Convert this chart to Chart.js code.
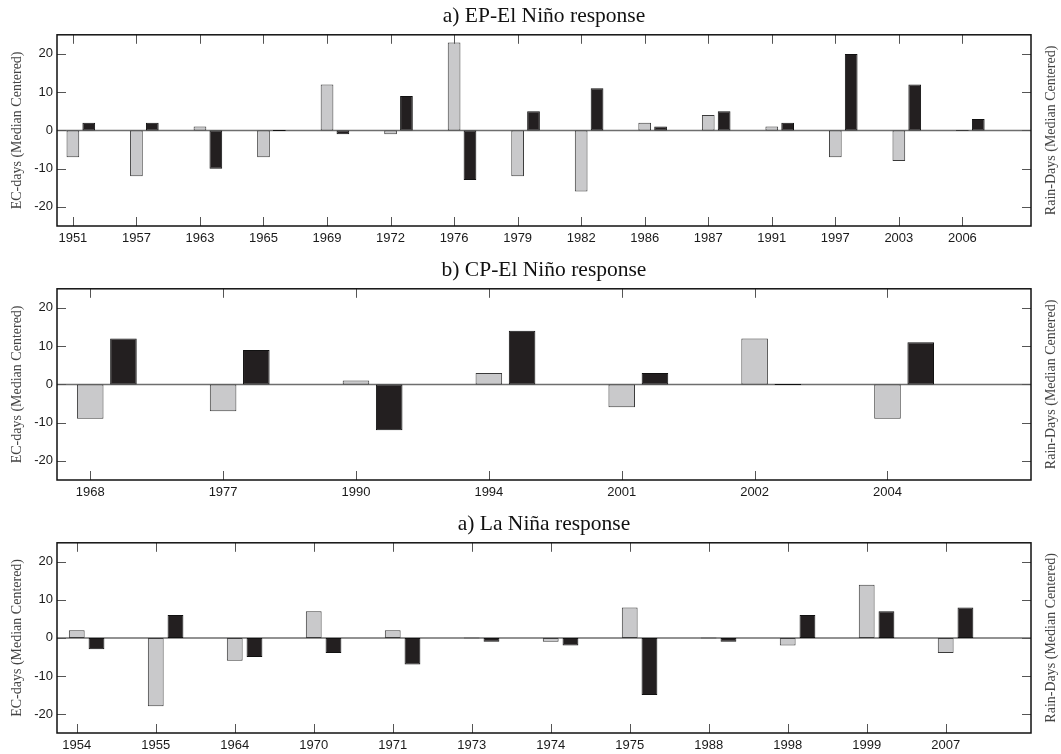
<!DOCTYPE html>
<html>
<head>
<meta charset="utf-8">
<script src="https://cdn.jsdelivr.net/npm/chart.js@4/dist/chart.umd.min.js"></script>
<style>
  body { margin: 0; background: #fff; }
  .panel { position: absolute; left: 0; }
</style>
</head>
<body>
<canvas id="epChart" class="panel" width="1061" height="252" style="top:0px"></canvas>
<canvas id="cpChart" class="panel" width="1061" height="252" style="top:254px"></canvas>
<canvas id="laChart" class="panel" width="1061" height="246" style="top:508px"></canvas>
<script>
// a) EP-El Nino
const epYears = ["1951", "1957", "1963", "1965", "1969", "1972", "1976", "1979", "1982", "1986", "1987", "1991", "1997", "2003", "2006"];
const epEcDays = [-7, -12, 1, -7, 12, -1, 23, -12, -16, 2, 4, 1, -7, -8, 0];
const epRainDays = [2, 2, -10, 0, -1, 9, -13, 5, 11, 1, 5, 2, 20, 12, 3];

// b) CP-El Nino
const cpYears = ["1968", "1977", "1990", "1994", "2001", "2002", "2004"];
const cpEcDays = [-9, -7, 1, 3, -6, 12, -9];
const cpRainDays = [12, 9, -12, 14, 3, 0, 11];

// c) La Nina (labelled "a)" in the figure)
const laYears = ["1954", "1955", "1964", "1970", "1971", "1973", "1974", "1975", "1988", "1998", "1999", "2007"];
const laEcDays = [2, -18, -6, 7, 2, 0, -1, 8, 0, -2, 14, -4];
const laRainDays = [-3, 6, -5, -4, -7, -1, -2, -15, -1, 6, 7, 8];

const yTicks = [-20, -10, 0, 10, 20];

// box, inner tick marks, zero line and right-hand label (matlab style)
const frame = {
  id: "frame",
  beforeDatasetsDraw(chart) {
    const { ctx, chartArea: a, scales } = chart;
    const y0 = scales.y.getPixelForValue(0);
    ctx.save();
    ctx.strokeStyle = "#6e6e6e";
    ctx.lineWidth = 1.5;
    ctx.beginPath();
    ctx.moveTo(a.left, y0);
    ctx.lineTo(a.right, y0);
    ctx.stroke();
    ctx.restore();
  },
  afterDraw(chart, args, opts) {
    const { ctx, chartArea: a, scales } = chart;
    ctx.save();
    ctx.strokeStyle = "#555";
    ctx.lineWidth = 1;
    ctx.beginPath();
    scales.x.ticks.forEach((t) => {
      const px = Math.round(scales.x.getPixelForValue(t.value)) + 0.5;
      ctx.moveTo(px, a.top);
      ctx.lineTo(px, a.top + 9);
      ctx.moveTo(px, a.bottom);
      ctx.lineTo(px, a.bottom - 9);
    });
    scales.y.ticks.forEach((t) => {
      const py = Math.round(scales.y.getPixelForValue(t.value)) + 0.5;
      ctx.moveTo(a.left, py);
      ctx.lineTo(a.left + 9, py);
      ctx.moveTo(a.right, py);
      ctx.lineTo(a.right - 9, py);
    });
    ctx.stroke();

    ctx.strokeStyle = "#111";
    ctx.lineWidth = 1.5;
    ctx.strokeRect(a.left, a.top, a.right - a.left, a.bottom - a.top);

    ctx.translate(a.right + 20, (a.top + a.bottom) / 2);
    ctx.rotate(-Math.PI / 2);
    ctx.font = '14px "Liberation Serif"';
    ctx.fillStyle = "#444";
    ctx.textAlign = "center";
    ctx.textBaseline = "middle";
    ctx.fillText(opts.rightTitle, 0, 0);
    ctx.restore();
  },
};

function drawPanel(canvasId, title, years, ecDays, rainDays, axisHeight) {
  const grayData = years.map((yr, i) => ({ x: i + 1, y: ecDays[i] }));
  const blackData = years.map((yr, i) => ({ x: i + 1.25, y: rainDays[i] }));

  const config = {
    type: "bar",
    data: {
      datasets: [
        {
          label: "EC-days",
          data: grayData,
          backgroundColor: "#c9c9cb",
          borderColor: "#3a3a3a",
          borderWidth: 1,
          borderSkipped: false,
          grouped: false,
          barPercentage: 0.8,
          categoryPercentage: 1,
          minBarLength: 1,
        },
        {
          label: "Rain-Days",
          data: blackData,
          backgroundColor: "#231f20",
          borderColor: "#111",
          borderWidth: 1,
          borderSkipped: false,
          grouped: false,
          barPercentage: 0.8,
          categoryPercentage: 1,
          minBarLength: 1,
        },
      ],
    },
    options: {
      responsive: false,
      animation: false,
      events: [],
      layout: { padding: { left: 0, right: 30, top: 0, bottom: 0 } },
      plugins: {
        legend: { display: false },
        tooltip: { enabled: false },
        title: {
          display: true,
          fullSize: false,
          text: title,
          color: "#111",
          font: { family: "Liberation Serif", size: 21.5, weight: "normal" },
          padding: { top: 3, bottom: 6 },
        },
        frame: { rightTitle: "Rain-Days (Median Centered)" },
      },
      scales: {
        x: {
          type: "linear",
          min: 0.75,
          max: years.length + 1.08,
          bounds: "data",
          offset: false,
          grid: { display: false, drawTicks: false },
          border: { display: false },
          afterBuildTicks: (axis) => {
            axis.ticks = years.map((yr, i) => ({ value: i + 1 }));
          },
          afterFit: (axis) => {
            axis.height = axisHeight;
          },
          ticks: {
            autoSkip: false,
            maxRotation: 0,
            padding: 5,
            color: "#1a1a1a",
            font: { family: "Liberation Sans", size: 13 },
            callback: (v) => years[Math.round(v) - 1],
          },
        },
        y: {
          min: -25,
          max: 25,
          bounds: "data",
          grid: { display: false, drawTicks: false },
          border: { display: false },
          afterBuildTicks: (axis) => {
            axis.ticks = yTicks.map((v) => ({ value: v }));
          },
          afterFit: (axis) => {
            axis.width = 57;
          },
          ticks: {
            padding: 4,
            color: "#1a1a1a",
            font: { family: "Liberation Sans", size: 13 },
          },
          title: {
            display: true,
            text: "EC-days (Median Centered)",
            color: "#444",
            font: { family: "Liberation Serif", size: 14 },
            padding: { top: 9, bottom: 0 },
          },
        },
      },
    },
    plugins: [frame],
  };

  const chart = new Chart(document.getElementById(canvasId), config);
  console.log(chart.chartArea);
  return chart;
}

drawPanel("epChart", "a) EP-El Niño response", epYears, epEcDays, epRainDays, 26);
drawPanel("cpChart", "b) CP-El Niño response", cpYears, cpEcDays, cpRainDays, 26);
drawPanel("laChart", "a) La Niña response", laYears, laEcDays, laRainDays, 21);
</script>
</body>
</html>
